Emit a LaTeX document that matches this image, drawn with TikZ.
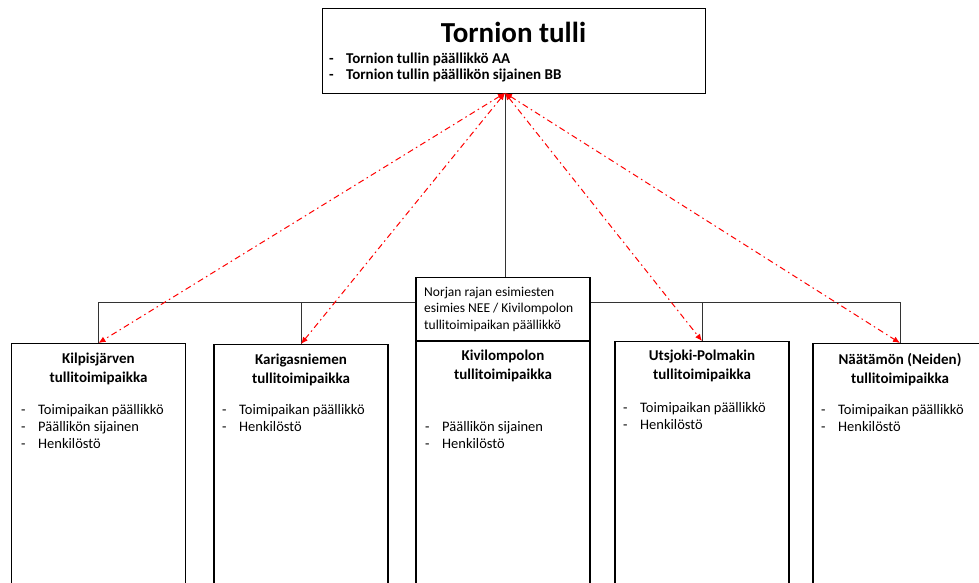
\documentclass[tikz,border=0pt]{standalone}
\usepackage{fontspec}
\setmainfont{Carlito}
\usetikzlibrary{positioning,arrows.meta}

\newcommand{\dashitem}[1]{\makebox[17pt][l]{-}#1}

\begin{document}
\begin{tikzpicture}[x=1pt, y=-1pt,
  office/.style={draw, line width=1.2pt, fill=white, minimum width=174pt, minimum height=260pt, anchor=north, inner sep=0pt},
  officetitle/.style={font=\fontsize{15}{19}\selectfont\bfseries, align=center, anchor=north, inner sep=0pt},
  officelist/.style={font=\fontsize{14.5}{17}\selectfont, align=left, anchor=north west, inner sep=0pt},
  branch/.style={draw=black!80, thin},
  redlink/.style={draw=red, line width=1pt, dash pattern=on 6pt off 3.5pt on 1.5pt off 3.5pt, {Latex[length=7pt,width=6pt]}-{Latex[length=7pt,width=6pt]}}]

\useasboundingbox (0,0) rectangle (979,583);
\clip (0,0) rectangle (979,583);

% main office
\node[draw, line width=1.2pt, minimum width=383pt, minimum height=85pt, anchor=north west, inner sep=0pt] (tulli) at (322,8) {};
\node[font=\fontsize{29}{30}\selectfont\bfseries, anchor=center] (tullititle) at (513.5,32) {Tornion tulli};
\node[font=\fontsize{15}{16}\selectfont\bfseries, align=left, anchor=north west, inner sep=0pt] (tullilist) at (329,53)
  {\dashitem{Tornion tullin päällikkö AA}\\ \dashitem{Tornion tullin päällikön sijainen BB}};

% offices
\node[office] (kilpis) at (98.5,343) {};
\node[office] (kariga) at (301,344) {};
\node[office] (kivi) at (503,341) {};
\node[office] (utsjoki) at (702,341) {};
\node[office] (naatamo) at (900,343) {};

\coordinate (bar) at (503,302);
\coordinate (hub) at (505,93);

% connectors
\draw[branch] (kilpis.north |- bar) -- (naatamo.north |- bar);
\draw[branch] (hub) -- (hub |- bar);
\draw[branch] (kilpis.north |- bar) -- (kilpis.north);
\draw[branch] (kariga.north |- bar) -- (kariga.north);
\draw[branch] (utsjoki.north |- bar) -- (utsjoki.north);
\draw[branch] (naatamo.north |- bar) -- (naatamo.north);

% supervisor box
\node[draw, line width=1.2pt, fill=white, minimum width=174pt, minimum height=63pt, anchor=south, inner sep=0pt] (esimies) at (kivi.north) {};
\node[font=\fontsize{13.5}{16.5}\selectfont, align=left, anchor=north west, inner sep=0pt] (esimiestext) at (424,287)
  {Norjan rajan esimiesten\\ esimies NEE / Kivilompolon\\ tullitoimipaikan päällikkö};

% office texts
\node[officetitle, below=10pt of kilpis.north] (kilpistitle) {Kilpisjärven\\ tullitoimipaikka};
\node[officelist] (kilpislist) at (21,404) {\dashitem{Toimipaikan päällikkö}\\ \dashitem{Päällikön sijainen}\\ \dashitem{Henkilöstö}};

\node[officetitle, below=10pt of kariga.north] (karigatitle) {Karigasniemen\\ tullitoimipaikka};
\node[officelist] (karigalist) at (222,404) {\dashitem{Toimipaikan päällikkö}\\ \dashitem{Henkilöstö}};

\node[officetitle, below=9pt of kivi.north] (kivititle) {Kivilompolon\\ tullitoimipaikka};
\node[officelist] (kivilist) at (425,421) {\dashitem{Päällikön sijainen}\\ \dashitem{Henkilöstö}};

\node[officetitle, below=9pt of utsjoki.north] (utsjokititle) {Utsjoki-Polmakin\\ tullitoimipaikka};
\node[officelist] (utsjokilist) at (623,402) {\dashitem{Toimipaikan päällikkö}\\ \dashitem{Henkilöstö}};

\node[officetitle, below=10pt of naatamo.north] (naatamotitle) {Näätämön (Neiden)\\ tullitoimipaikka};
\node[officelist] (naatamolist) at (821,404) {\dashitem{Toimipaikan päällikkö}\\ \dashitem{Henkilöstö}};

% red links
\draw[redlink] (hub) -- (kilpis.north);
\draw[redlink] (hub) -- (kariga.north);
\draw[redlink] (hub) -- (utsjoki.north);
\draw[redlink] (hub) -- (naatamo.north);

\end{tikzpicture}
\end{document}
